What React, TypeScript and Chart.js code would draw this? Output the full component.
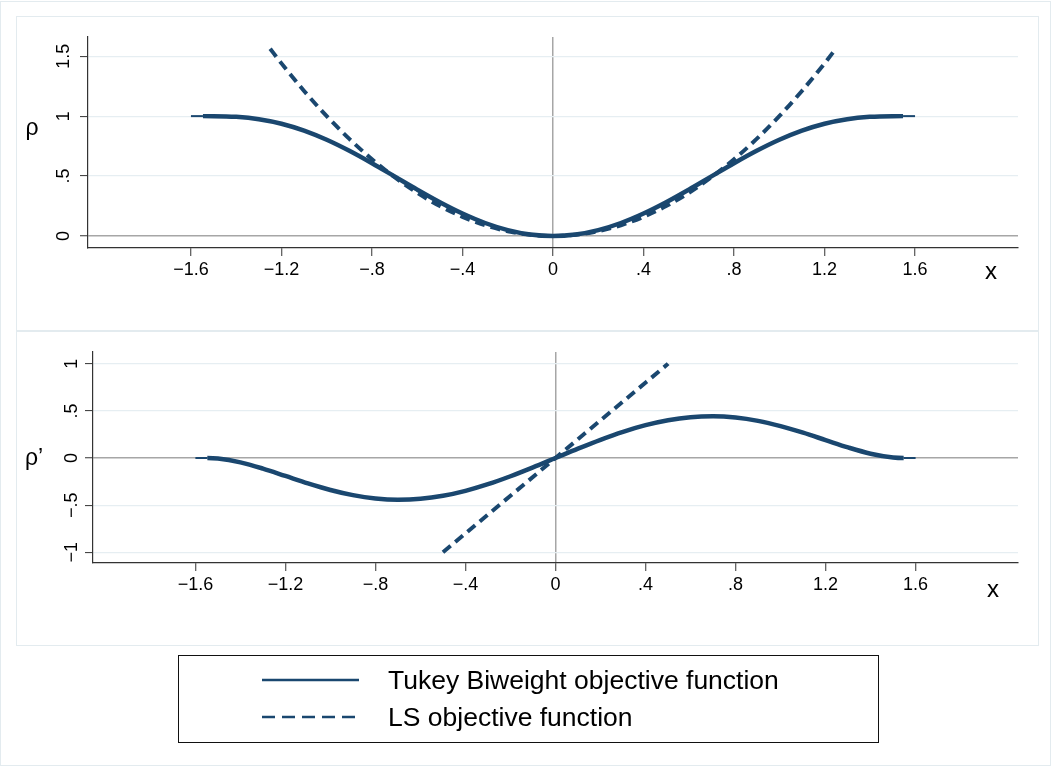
import React, { useEffect, useRef } from "react";
import { Chart, registerables } from "chart.js";

Chart.register(...registerables);

// ---------- data ----------
const X_TUKEY = [-1.6, -1.547, -1.5, -1.4, -1.3, -1.2, -1.1, -1.0, -0.9, -0.8, -0.7, -0.6, -0.5, -0.4, -0.3, -0.2, -0.1, 0, 0.1, 0.2, 0.3, 0.4, 0.5, 0.6, 0.7, 0.8, 0.9, 1.0, 1.1, 1.2, 1.3, 1.4, 1.5, 1.547, 1.6];
const RHO_TUKEY = [1, 1, 0.9998, 0.9941, 0.9746, 0.9368, 0.8792, 0.8027, 0.7105, 0.6069, 0.4971, 0.3868, 0.2818, 0.1875, 0.1086, 0.0493, 0.0125, 0, 0.0125, 0.0493, 0.1086, 0.1875, 0.2818, 0.3868, 0.4971, 0.6069, 0.7105, 0.8027, 0.8792, 0.9368, 0.9746, 0.9941, 0.9998, 1, 1];
const PSI_TUKEY = [0, 0, -0.0054, -0.0459, -0.1122, -0.1904, -0.2689, -0.3389, -0.3939, -0.4293, -0.4427, -0.4331, -0.401, -0.3483, -0.2779, -0.1934, -0.0992, 0, 0.0992, 0.1934, 0.2779, 0.3483, 0.401, 0.4331, 0.4427, 0.4293, 0.3939, 0.3389, 0.2689, 0.1904, 0.1122, 0.0459, 0.0054, 0, 0];

const X_LS = [-1.25, -1.2, -1.1, -1.0, -0.9, -0.8, -0.7, -0.6, -0.5, -0.4, -0.3, -0.2, -0.1, 0, 0.1, 0.2, 0.3, 0.4, 0.5, 0.6, 0.7, 0.8, 0.9, 1.0, 1.1, 1.2, 1.25];
const RHO_LS = [1.5625, 1.44, 1.21, 1, 0.81, 0.64, 0.49, 0.36, 0.25, 0.16, 0.09, 0.04, 0.01, 0, 0.01, 0.04, 0.09, 0.16, 0.25, 0.36, 0.49, 0.64, 0.81, 1, 1.21, 1.44, 1.5625];

const X_LS_D = [-0.5, 0.5];
const PSI_LS = [-1, 1];

const X_TICKS = [-1.6, -1.2, -0.8, -0.4, 0, 0.4, 0.8, 1.2, 1.6];
const X_TICK_LABELS = ["\u22121.6", "\u22121.2", "\u2212.8", "\u2212.4", "0", ".4", ".8", "1.2", "1.6"];
const Y1_TICKS = [0, 0.5, 1, 1.5];
const Y1_TICK_LABELS = ["0", ".5", "1", "1.5"];
const Y2_TICKS = [-1, -0.5, 0, 0.5, 1];
const Y2_TICK_LABELS = ["\u22121", "\u2212.5", "0", ".5", "1"];

const SERIES_NAMES = ["Tukey Biweight objective function", "LS objective function"];

// ---------- styles ----------
const NAVY = "#1a476f";
const FONT = "'Liberation Sans', Arial, Helvetica, sans-serif";
const GRID = "#e6eef2";
const ZERO = "#a6a6a6";
const AXIS = "#333333";
const C_TUKEY = 1.547;

function pts(xs: number[], ys: number[]) {
  return xs.map((x, i) => ({ x, y: ys[i] }));
}

type PanelCfg = {
  tukeyY: number[];
  lsX: number[];
  lsY: number[];
  yMin: number;
  yMax: number;
  yTicks: number[];
  yLabels: string[];
  padTop: number;
  yWidth: number;
  xHeight: number;
  yPad: number;
  yTitle: string;
  yTitlePos: [number, number];
  xTitlePos: [number, number];
};

function Panel({ cfg, top, height }: { cfg: PanelCfg; top: number; height: number }) {
  const ref = useRef<HTMLCanvasElement | null>(null);
  useEffect(() => {
    if (!ref.current) return;
    const titles = {
      id: "titles",
      afterDraw(chart: any) {
        const ctx = chart.ctx;
        ctx.save();
        ctx.fillStyle = "#000";
        ctx.textAlign = "center";
        ctx.textBaseline = "middle";
        ctx.font = `24px ${FONT}`;
        ctx.fillText("x", cfg.xTitlePos[0], cfg.xTitlePos[1]);
        ctx.font = `23px ${FONT}`;
        ctx.fillText(cfg.yTitle, cfg.yTitlePos[0], cfg.yTitlePos[1]);
        ctx.restore();
      },
    };
    const chart = new Chart(ref.current, {
      type: "line",
      data: {
        datasets: [
          {
            label: SERIES_NAMES[0],
            data: pts(X_TUKEY, cfg.tukeyY),
            borderColor: NAVY,
            borderWidth: 4.5,
            pointRadius: 0,
            cubicInterpolationMode: "monotone",
            order: 0,
            segment: {
              borderWidth: (c: any) =>
                Math.abs(c.p0.parsed.x) >= C_TUKEY - 1e-6 && Math.abs(c.p1.parsed.x) >= C_TUKEY - 1e-6 ? 2 : 4.5,
            },
          } as any,
          {
            label: SERIES_NAMES[1],
            data: pts(cfg.lsX, cfg.lsY),
            borderColor: NAVY,
            borderWidth: 4,
            borderDash: [10, 6],
            pointRadius: 0,
            cubicInterpolationMode: "monotone",
            order: 1,
          },
        ],
      },
      options: {
        animation: false,
        responsive: false,
        maintainAspectRatio: false,
        layout: { padding: { left: 16, right: 35, top: cfg.padTop, bottom: 0 } },
        plugins: { legend: { display: false }, tooltip: { enabled: false } },
        scales: {
          x: {
            type: "linear",
            min: -2.055,
            max: 2.055,
            afterBuildTicks: (s: any) => {
              s.ticks = X_TICKS.map((v) => ({ value: v }));
            },
            afterFit: (s: any) => {
              s.height = cfg.xHeight;
            },
            ticks: {
              callback: (v: any) => {
                const i = X_TICKS.findIndex((t) => Math.abs(t - v) < 1e-9);
                return i >= 0 ? X_TICK_LABELS[i] : "";
              },
              font: { family: FONT, size: 18 },
              color: "#000",
              padding: 3,
              maxRotation: 0,
              minRotation: 0,
            },
            grid: {
              color: (c: any) => (c.tick && Math.abs(c.tick.value) < 1e-9 ? ZERO : "rgba(0,0,0,0)"),
              lineWidth: 1.5,
              tickColor: AXIS,
              tickLength: 8,
              tickWidth: 1,
            },
            border: { display: true, color: AXIS, width: 1.2 },
          },
          y: {
            type: "linear",
            min: cfg.yMin,
            max: cfg.yMax,
            afterBuildTicks: (s: any) => {
              s.ticks = cfg.yTicks.map((v) => ({ value: v }));
            },
            afterFit: (s: any) => {
              s.width = cfg.yWidth;
            },
            ticks: {
              callback: (v: any) => {
                const i = cfg.yTicks.findIndex((t) => Math.abs(t - v) < 1e-9);
                return i >= 0 ? cfg.yLabels[i] : "";
              },
              font: { family: FONT, size: 18 },
              color: "#000",
              minRotation: 90,
              maxRotation: 90,
              crossAlign: "center",
              padding: cfg.yPad,
            },
            grid: {
              color: (c: any) => (c.tick && Math.abs(c.tick.value) < 1e-9 ? ZERO : GRID),
              lineWidth: (c: any) => (c.tick && Math.abs(c.tick.value) < 1e-9 ? 1.5 : 1.2),
              tickColor: AXIS,
              tickLength: 8,
              tickWidth: 1,
            },
            border: { display: true, color: AXIS, width: 1.2 },
          },
        },
      } as any,
      plugins: [titles],
    });
    return () => chart.destroy();
  }, []);
  return (
    <canvas
      ref={ref}
      width={1053}
      height={height}
      style={{ position: "absolute", left: 0, top, width: 1053, height }}
    />
  );
}

const TOP_CFG: PanelCfg = {
  tukeyY: RHO_TUKEY,
  lsX: X_LS,
  lsY: RHO_LS,
  yMin: -0.1,
  yMax: 1.66,
  yTicks: Y1_TICKS,
  yLabels: Y1_TICK_LABELS,
  padTop: 37,
  yWidth: 72,
  xHeight: 82,
  yPad: 3,
  yTitle: "\u03c1",
  yTitlePos: [32, 129],
  xTitlePos: [991, 272],
};

const BOTTOM_CFG: PanelCfg = {
  tukeyY: PSI_TUKEY,
  lsX: X_LS_D,
  lsY: PSI_LS,
  yMin: -1.114,
  yMax: 1.125,
  yTicks: Y2_TICKS,
  yLabels: Y2_TICK_LABELS,
  padTop: 22,
  yWidth: 77,
  xHeight: 83,
  yPad: 0,
  yTitle: "\u03c1\u2019",
  yTitlePos: [34, 129],
  xTitlePos: [993, 260],
};

export default function App() {
  const boxBorder = "1px solid #e3ebef";
  return (
    <div style={{ position: "absolute", left: 0, top: 0, width: 1053, height: 768, background: "#fff", overflow: "hidden", fontFamily: FONT }}>
      <div style={{ position: "absolute", left: 0, top: 1, width: 1051, height: 765, border: boxBorder, boxSizing: "border-box" }} />
      <div style={{ position: "absolute", left: 16, top: 16, width: 1023, height: 315, border: boxBorder, boxSizing: "border-box" }} />
      <div style={{ position: "absolute", left: 16, top: 331, width: 1023, height: 315, border: boxBorder, boxSizing: "border-box" }} />
      <Panel cfg={TOP_CFG} top={0} height={330} />
      <Panel cfg={BOTTOM_CFG} top={330} height={316} />
      <div
        style={{
          position: "absolute",
          left: 178,
          top: 655,
          width: 701,
          height: 88,
          border: "1px solid #111",
          boxSizing: "border-box",
        }}
      />
      <svg width={1053} height={768} style={{ position: "absolute", left: 0, top: 0 }}>
        <line x1={262} y1={680} x2={359} y2={680} stroke={NAVY} strokeWidth={2.5} />
        <line x1={262} y1={717} x2={359} y2={717} stroke={NAVY} strokeWidth={2.5} strokeDasharray="13 7" />
      </svg>
      <div style={{ position: "absolute", left: 388, top: 665, fontSize: 26.5, lineHeight: "30px", color: "#000", whiteSpace: "nowrap" }}>
        {SERIES_NAMES[0]}
      </div>
      <div style={{ position: "absolute", left: 388, top: 702, fontSize: 26.5, lineHeight: "30px", color: "#000", whiteSpace: "nowrap" }}>
        {SERIES_NAMES[1]}
      </div>
    </div>
  );
}
